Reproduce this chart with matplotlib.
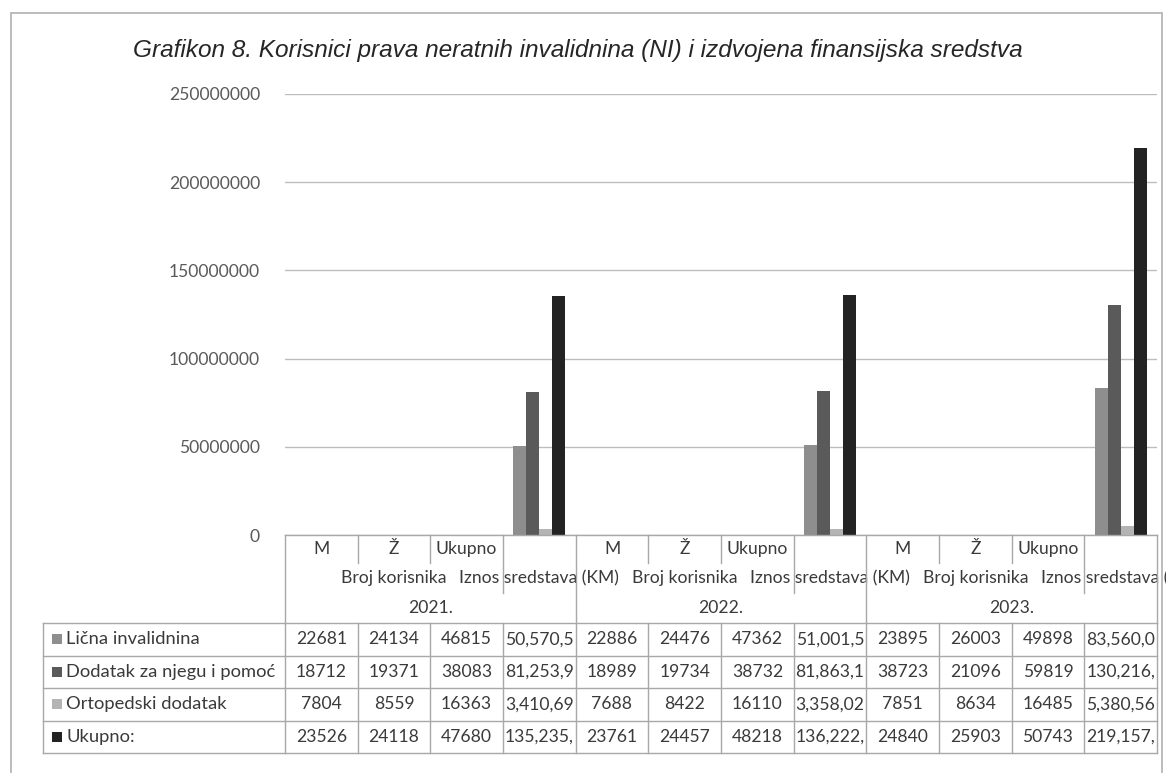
import matplotlib
matplotlib.use("Agg")
import matplotlib.pyplot as plt
import matplotlib.transforms as mtransforms
from matplotlib.patches import Rectangle
from matplotlib.lines import Line2D

# ---------------- data ----------------
years = ["2021.", "2022.", "2023."]
level1 = ["M", "Ž", "Ukupno", ""]
level2 = ["Broj korisnika", "Iznos sredstava (KM)"]
series_names = ["Lična invalidnina", "Dodatak za njegu i pomoć",
                "Ortopedski dodatak", "Ukupno:"]

licna = [22681, 24134, 46815, 50570500, 22886, 24476, 47362, 51001500,
         23895, 26003, 49898, 83560000]
dodatak = [18712, 19371, 38083, 81253900, 18989, 19734, 38732, 81863100,
           38723, 21096, 59819, 130216000]
ortopedski = [7804, 8559, 16363, 3410690, 7688, 8422, 16110, 3358020,
              7851, 8634, 16485, 5380560]
ukupno = [23526, 24118, 47680, 135235000, 23761, 24457, 48218, 136222000,
          24840, 25903, 50743, 219157000]

yticks = [0, 50000000, 100000000, 150000000, 200000000, 250000000]
title = "Grafikon 8. Korisnici prava neratnih invalidnina (NI) i izdvojena finansijska sredstva"

# ---------------- style ----------------
colors = ["#8e8e8e", "#5a5a5a", "#b4b4b4", "#232323"]
W, H = 1166, 773
FONT = "Lato"
FS = 12.6
txt_col = "#3a3a3a"
tick_col = "#5a5a5a"
line_col = "#a8a8a8"

fig = plt.figure(figsize=(W / 100, H / 100), dpi=100)
fig.patch.set_facecolor("white")

def fy(px):
    return 1 - px / H

def fx(px):
    return px / W

ax_l, ax_r, ax_t, ax_b = 285, 1157, 94, 535
ax = fig.add_axes([fx(ax_l), fy(ax_b), fx(ax_r - ax_l), (ax_b - ax_t) / H])
ax.set_xlim(-0.5, 11.5)
ax.set_ylim(0, 250000000)
for s in ax.spines.values():
    s.set_visible(False)
ax.set_yticks(yticks)
ax.set_yticklabels([str(v) for v in yticks], fontsize=FS, color=tick_col, family=FONT)
ax.tick_params(axis="y", length=0, pad=18)
ax.set_xticks([])
ax.yaxis.grid(True, color="#bdbdbd", linewidth=1.0)
ax.set_axisbelow(True)

# bars
all_series = [licna, dodatak, ortopedski, ukupno]
bw = 0.18
n = len(all_series)
x = list(range(len(licna)))
for k, (vals, c) in enumerate(zip(all_series, colors)):
    off = (k - (n - 1) / 2) * bw
    ax.bar([xi + off for xi in x], vals, width=bw, color=c, linewidth=0, zorder=3)

# ---------------- data table ----------------
tr = mtransforms.blended_transform_factory(ax.transData, fig.transFigure)
ncols = len(licna)
ngroup = len(level1)

def vline(xd, y0, y1, transform=tr):
    fig.add_artist(Line2D([xd, xd], [fy(y0), fy(y1)], transform=transform,
                          color=line_col, lw=1.0))

def hline(x0, x1, y, transform=tr):
    fig.add_artist(Line2D([x0, x1], [fy(y), fy(y)], transform=transform,
                          color=line_col, lw=1.0))

h0, h1, h2, h3 = 535, 563, 593, 623
rows = [623, 655.5, 688, 720.5, 753]

# header box
hline(-0.5, 11.5, h0)
for ci in range(ncols + 1):
    xb = ci - 0.5
    pos = ci % ngroup
    if pos == 0:
        vline(xb, h0, h3)
    elif pos == ngroup - 1:
        vline(xb, h0, h2)
    else:
        vline(xb, h0, h1)

for ci in range(ncols):
    fig.text(ci, fy((h0 + h1) / 2), level1[ci % ngroup], transform=tr,
             ha="center", va="center", fontsize=FS, color=txt_col, family=FONT)

for gi, yr in enumerate(years):
    base = gi * ngroup
    fig.text(base + 1, fy((h1 + h2) / 2), level2[0], transform=tr,
             ha="center", va="center", fontsize=FS, color=txt_col, family=FONT)
    fig.text(base + 3, fy((h1 + h2) / 2), level2[1], transform=tr,
             ha="center", va="center", fontsize=FS, color=txt_col, family=FONT,
             zorder=1)
    fig.text(base + 1.5, fy((h2 + h3) / 2), yr, transform=tr,
             ha="center", va="center", fontsize=FS, color=txt_col, family=FONT)

# data rows
lbl_left = 43
for y in rows:
    fig.add_artist(Line2D([fx(lbl_left), fx(ax_l)], [fy(y), fy(y)],
                          transform=fig.transFigure, color=line_col, lw=1.0))
    hline(-0.5, 11.5, y)
fig.add_artist(Line2D([fx(lbl_left), fx(lbl_left)], [fy(rows[0]), fy(rows[-1])],
                      transform=fig.transFigure, color=line_col, lw=1.0))
for ci in range(ncols + 1):
    vline(ci - 0.5, rows[0], rows[-1])

def cell_text(v, ci):
    if ci % ngroup == ngroup - 1:
        return f"{v:,}"[:8]
    return str(v)

for ri, (name, vals, c) in enumerate(zip(series_names, all_series, colors)):
    yc = fy((rows[ri] + rows[ri + 1]) / 2)
    fig.add_artist(Rectangle((fx(52), yc - 5 / H), 10 / W, 10 / H,
                             transform=fig.transFigure, color=c, lw=0))
    fig.text(fx(66), yc, name, ha="left", va="center", fontsize=FS + 0.6,
             color=txt_col, family=FONT)
    for ci, v in enumerate(vals):
        fig.text(ci, yc, cell_text(v, ci), transform=tr, ha="center",
                 va="center", fontsize=FS, color=txt_col, family=FONT)

# title
fig.text(fx(133), fy(50), title, ha="left", va="center", fontsize=17.6,
         style="italic", family="Liberation Sans", color="#262626")

# outer frame
fig.add_artist(Rectangle((fx(11), fy(790)), fx(1162 - 11), (790 - 13) / H,
                         transform=fig.transFigure, fill=False,
                         edgecolor="#b0b0b0", lw=1.2))

fig.savefig("out.png", dpi=100, facecolor="white")
